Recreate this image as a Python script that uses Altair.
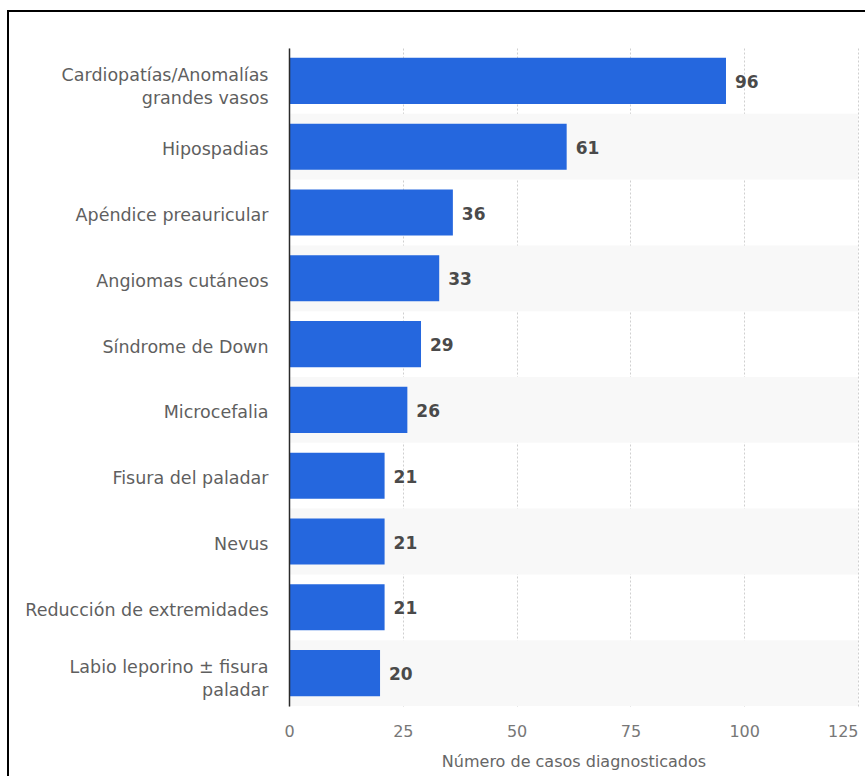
import altair as alt
import pandas as pd

categories = [
    "Cardiopatías/Anomalías\ngrandes vasos",
    "Hipospadias",
    "Apéndice preauricular",
    "Angiomas cutáneos",
    "Síndrome de Down",
    "Microcefalia",
    "Fisura del paladar",
    "Nevus",
    "Reducción de extremidades",
    "Labio leporino ± fisura\npaladar",
]
values = [96, 61, 36, 33, 29, 26, 21, 21, 21, 20]
x_ticks = [0, 25, 50, 75, 100, 125]
x_title = "Número de casos diagnosticados"

df = pd.DataFrame({"cat": categories, "val": values})
df["shade"] = [i % 2 == 1 for i in range(len(categories))]

W, H = 569, 658
FONT = "DejaVu Sans"

y_enc = alt.Y(
    "cat:N",
    sort=categories,
    title=None,
    scale=alt.Scale(paddingInner=0, paddingOuter=0),
    axis=alt.Axis(
        labelExpr="split(datum.label, '\\n')",
        labelFont=FONT,
        labelFontSize=17.5,
        labelColor="#5f5f5f",
        labelLineHeight=23,
        labelPadding=21,
        labelOffset={"condition": {"test": "indexof(datum.value, '\\n') >= 0", "value": -5}, "value": 3.5},
        ticks=False,
        domain=True,
        domainColor="#2b2b2b",
        domainWidth=1.5,
        grid=False,
        labelLimit=400,
    ),
)

x_scale = alt.Scale(domain=[0, 125], nice=False, zero=True)

bands = (
    alt.Chart(df)
    .transform_filter("datum.shade")
    .mark_rect(color="#f8f8f8")
    .encode(y=y_enc, x=alt.datum(0, scale=x_scale), x2=alt.datum(125))
)

bars = (
    alt.Chart(df)
    .mark_bar(color="#2567de", height=alt.RelativeBandSize(band=0.7))
    .encode(
        y=y_enc,
        x=alt.X(
            "val:Q",
            scale=x_scale,
            title=x_title,
            axis=alt.Axis(
                values=x_ticks,
                labelFont=FONT,
                labelFontSize=16,
                labelColor="#777777",
                labelPadding=17,
                labelFlush=False,
                labelAlign={"condition": {"test": "datum.value >= 125", "value": "right"}, "value": "center"},
                ticks=False,
                domain=False,
                grid=True,
                gridColor="#cfcfcf",
                gridDash=[2, 2],
                gridWidth=1,
                titleFont=FONT,
                titleFontSize=16,
                titleFontWeight="normal",
                titleColor="#666666",
                titlePadding=14,
            ),
        ),
    )
)

labels = (
    alt.Chart(df)
    .mark_text(
        align="left",
        baseline="middle",
        dx=9,
        dy=2,
        font=FONT,
        fontSize=17,
        fontWeight="bold",
        color="#4a4a4a",
    )
    .encode(y=y_enc, x=alt.X("val:Q", scale=x_scale), text=alt.Text("val:Q"))
)

frame = (
    alt.Chart(df)
    .transform_filter("datum.val == 96")
    .mark_rect(fill=None, stroke="black", strokeWidth=2, filled=False)
    .encode(
        x=alt.value(8 - 289),
        x2=alt.value(W + 300),
        y=alt.value(11 - 48),
        y2=alt.value(H + 300),
    )
)

chart = (
    alt.layer(bands, bars, labels, frame)
    .properties(
        width=W,
        height=H,
        autosize=alt.AutoSizeParams(type="none"),
        padding={"left": 289, "top": 48, "right": 865 - 289 - W, "bottom": 776 - 48 - H},
        background="white",
    )
    .configure_view(stroke=None)
)

chart.save("out.html", embed_options={"renderer": "svg", "actions": False})
